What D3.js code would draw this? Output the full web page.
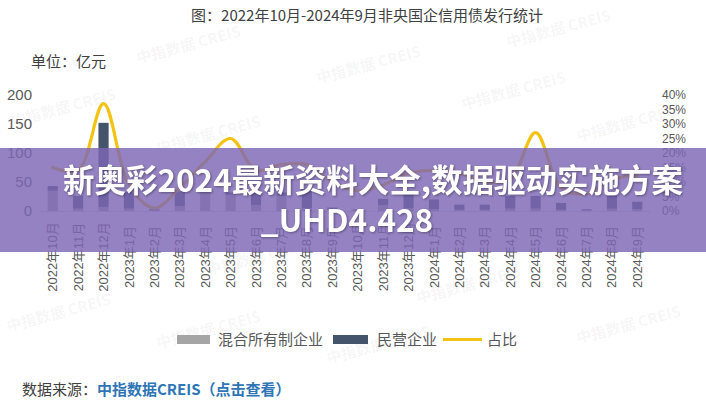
<!DOCTYPE html>
<html><head><meta charset="utf-8">
<script src="https://cdn.jsdelivr.net/npm/d3@7"></script>
<style>
html,body{margin:0;padding:0;background:#fff;}
svg{display:block;font-family:"Liberation Sans","Noto Sans CJK SC",sans-serif;}
</style></head>
<body>
<svg id="chart" width="706" height="400"></svg>
<script>
const months = ["2022年10月","2022年11月","2022年12月","2023年1月","2023年2月","2023年3月","2023年4月","2023年5月","2023年6月","2023年7月","2023年8月","2023年9月","2023年10月","2023年11月","2023年12月","2024年1月","2024年2月","2024年3月","2024年4月","2024年5月","2024年6月","2024年7月","2024年8月","2024年9月"];
const mixed    = [35, 4, 7, 4, 1, 8, 32, 28, 10, 26, 5, 2, 1, 10, 5, 3, 2, 2, 4, 4, 2, 1, 4, 3];
const privateE = [8, 22, 145, 29, 2, 26, 8, 4, 25, 6, 33, 4, 2, 11, 28, 17, 9, 9, 22, 22, 12, 2, 22, 13];
const ratio    = [15, 14, 37, 9, 1, 8, 17, 25, 14, 16, 16, 10, 7, 9, 13, 14, 13, 10, 11, 27, 8, 6, 11, 12];
const leftTicks = [0, 50, 100, 150, 200];
const rightTicks = [0, 5, 10, 15, 20, 25, 30, 35, 40];
const seriesNames = ["混合所有制企业", "民营企业", "占比"];
const titleText = "图：2022年10月-2024年9月非央国企信用债发行统计";
const unitText = "单位：亿元";
const sourceLabel = "数据来源：";
const sourceLink = "中指数据CREIS（点击查看）";
const bannerLines = ["新奥彩2024最新资料大全,数据驱动实施方案", "_UHD4.428"];

const svg = d3.select("#chart");
const colMixed = "#a5a5a5", colPriv = "#44546a", colLine = "#f2c314", txt = "#595959";

// watermarks (decoration)
const wm = [[65,113],[190,50],[370,70],[210,140],[515,96],[630,128],[560,34],[60,318],[210,335],[470,290],[380,350],[630,330],[260,262]];
const wmG = svg.append("g");
wm.forEach(([x,y]) => {
  wmG.append("text").attr("transform", `translate(${x},${y}) rotate(-15)`)
    .attr("text-anchor","middle").attr("font-size",15).attr("font-weight","bold")
    .attr("fill","#000").attr("fill-opacity",0.055)
    .attr("font-family","'Noto Sans CJK SC',sans-serif")
    .text("中指数据 CREIS");
});

const x = d3.scaleBand().domain(months).range([40, 650]).paddingInner(0.6).paddingOuter(0.3);
const y = d3.scaleLinear().domain([0, 200]).range([211, 95]);
const yR = d3.scaleLinear().domain([0, 40]).range([211, 95]);

// title
svg.append("text").attr("x", 367).attr("y", 21).attr("text-anchor","middle")
  .attr("font-size",15).attr("fill","#404040")
  .attr("font-family","'Noto Sans CJK SC',sans-serif").text(titleText);
svg.append("text").attr("x", 31).attr("y", 67).attr("font-size",15).attr("fill","#404040")
  .attr("font-family","'Noto Sans CJK SC',sans-serif").text(unitText);

// left axis
const ya = d3.axisLeft(y).tickValues(leftTicks).tickSize(0).tickPadding(0);
const gy = svg.append("g").attr("transform","translate(32,0)").call(ya);
gy.select(".domain").remove();
gy.selectAll("text").attr("font-size",15).attr("fill",txt).attr("font-family","'Liberation Sans',sans-serif");

// right axis
const yra = d3.axisRight(yR).tickValues(rightTicks).tickSize(0).tickPadding(0).tickFormat(d => d + "%");
const gyr = svg.append("g").attr("transform","translate(662,0)").call(yra);
gyr.select(".domain").remove();
gyr.selectAll("text").attr("font-size",12).attr("fill",txt).attr("font-family","'Liberation Sans',sans-serif");

// baseline
svg.append("line").attr("x1",40).attr("x2",650).attr("y1",y(0)+0.5).attr("y2",y(0)+0.5).attr("stroke","#d9d9d9");

// stacked bars
const stackData = months.map((m,i) => ({m, mixed: mixed[i], priv: privateE[i]}));
const stack = d3.stack().keys(["mixed","priv"])(stackData);
const colors = {mixed: colMixed, priv: colPriv};
svg.append("g").selectAll("g").data(stack).join("g").attr("fill", d => colors[d.key])
  .selectAll("rect").data(d => d).join("rect")
  .attr("x", d => x(d.data.m)).attr("width", x.bandwidth())
  .attr("y", d => y(d[1])).attr("height", d => y(d[0]) - y(d[1]));

// ratio line
const line = d3.line().x((d,i) => x(months[i]) + x.bandwidth()/2).y(d => yR(d)).curve(d3.curveCatmullRom.alpha(0.5));
svg.append("path").datum(ratio).attr("d", line).attr("fill","none").attr("stroke",colLine).attr("stroke-width",3.2).attr("stroke-linecap","round");

// x labels
const xa = d3.axisBottom(x).tickSize(0);
const gx = svg.append("g").call(xa);
gx.select(".domain").remove();
gx.selectAll(".tick").attr("transform", d => `translate(${x(d) + x.bandwidth()/2},257)`);
gx.selectAll("text").attr("transform","rotate(-90)").attr("x",0).attr("y",0).attr("dy","0.35em")
  .attr("text-anchor","middle").attr("font-size",13).attr("fill",txt)
  .attr("font-family","'Liberation Sans','Noto Sans CJK SC',sans-serif");

// legend
const lg = svg.append("g").attr("font-size",15).attr("fill",txt).attr("font-family","'Noto Sans CJK SC',sans-serif");
lg.append("rect").attr("x",177).attr("y",335).attr("width",33).attr("height",9).attr("fill",colMixed);
lg.append("text").attr("x",218).attr("y",345).text(seriesNames[0]);
lg.append("rect").attr("x",333).attr("y",335).attr("width",35).attr("height",9).attr("fill",colPriv);
lg.append("text").attr("x",377).attr("y",345).text(seriesNames[1]);
lg.append("line").attr("x1",443).attr("x2",482).attr("y1",339.5).attr("y2",339.5).attr("stroke",colLine).attr("stroke-width",3);
lg.append("text").attr("x",487).attr("y",345).text(seriesNames[2]);

// source
const src = svg.append("text").attr("x",22).attr("y",395).attr("font-size",15).attr("font-family","'Noto Sans CJK SC',sans-serif");
src.append("tspan").attr("fill","#404040").text(sourceLabel);
src.append("tspan").attr("fill","#2e75b6").attr("font-weight","bold").text(sourceLink);

// overlay banner
svg.append("rect").attr("x",0).attr("y",148).attr("width",706).attr("height",104)
  .attr("fill","rgb(124,102,180)").attr("fill-opacity",0.82);
const bt = svg.append("g").attr("fill","#fff").attr("font-weight","bold")
  .attr("font-family","'Noto Sans CJK SC',sans-serif").attr("text-anchor","middle")
  .style("filter","drop-shadow(1px 1px 1px rgba(0,0,0,0.35))");
bt.append("text").attr("x",373).attr("y",192).attr("font-size",31.5).text(bannerLines[0]);
bt.append("text").attr("x",347).attr("y",232).attr("font-size",31.5).text(bannerLines[1]);
</script>
</body></html>
